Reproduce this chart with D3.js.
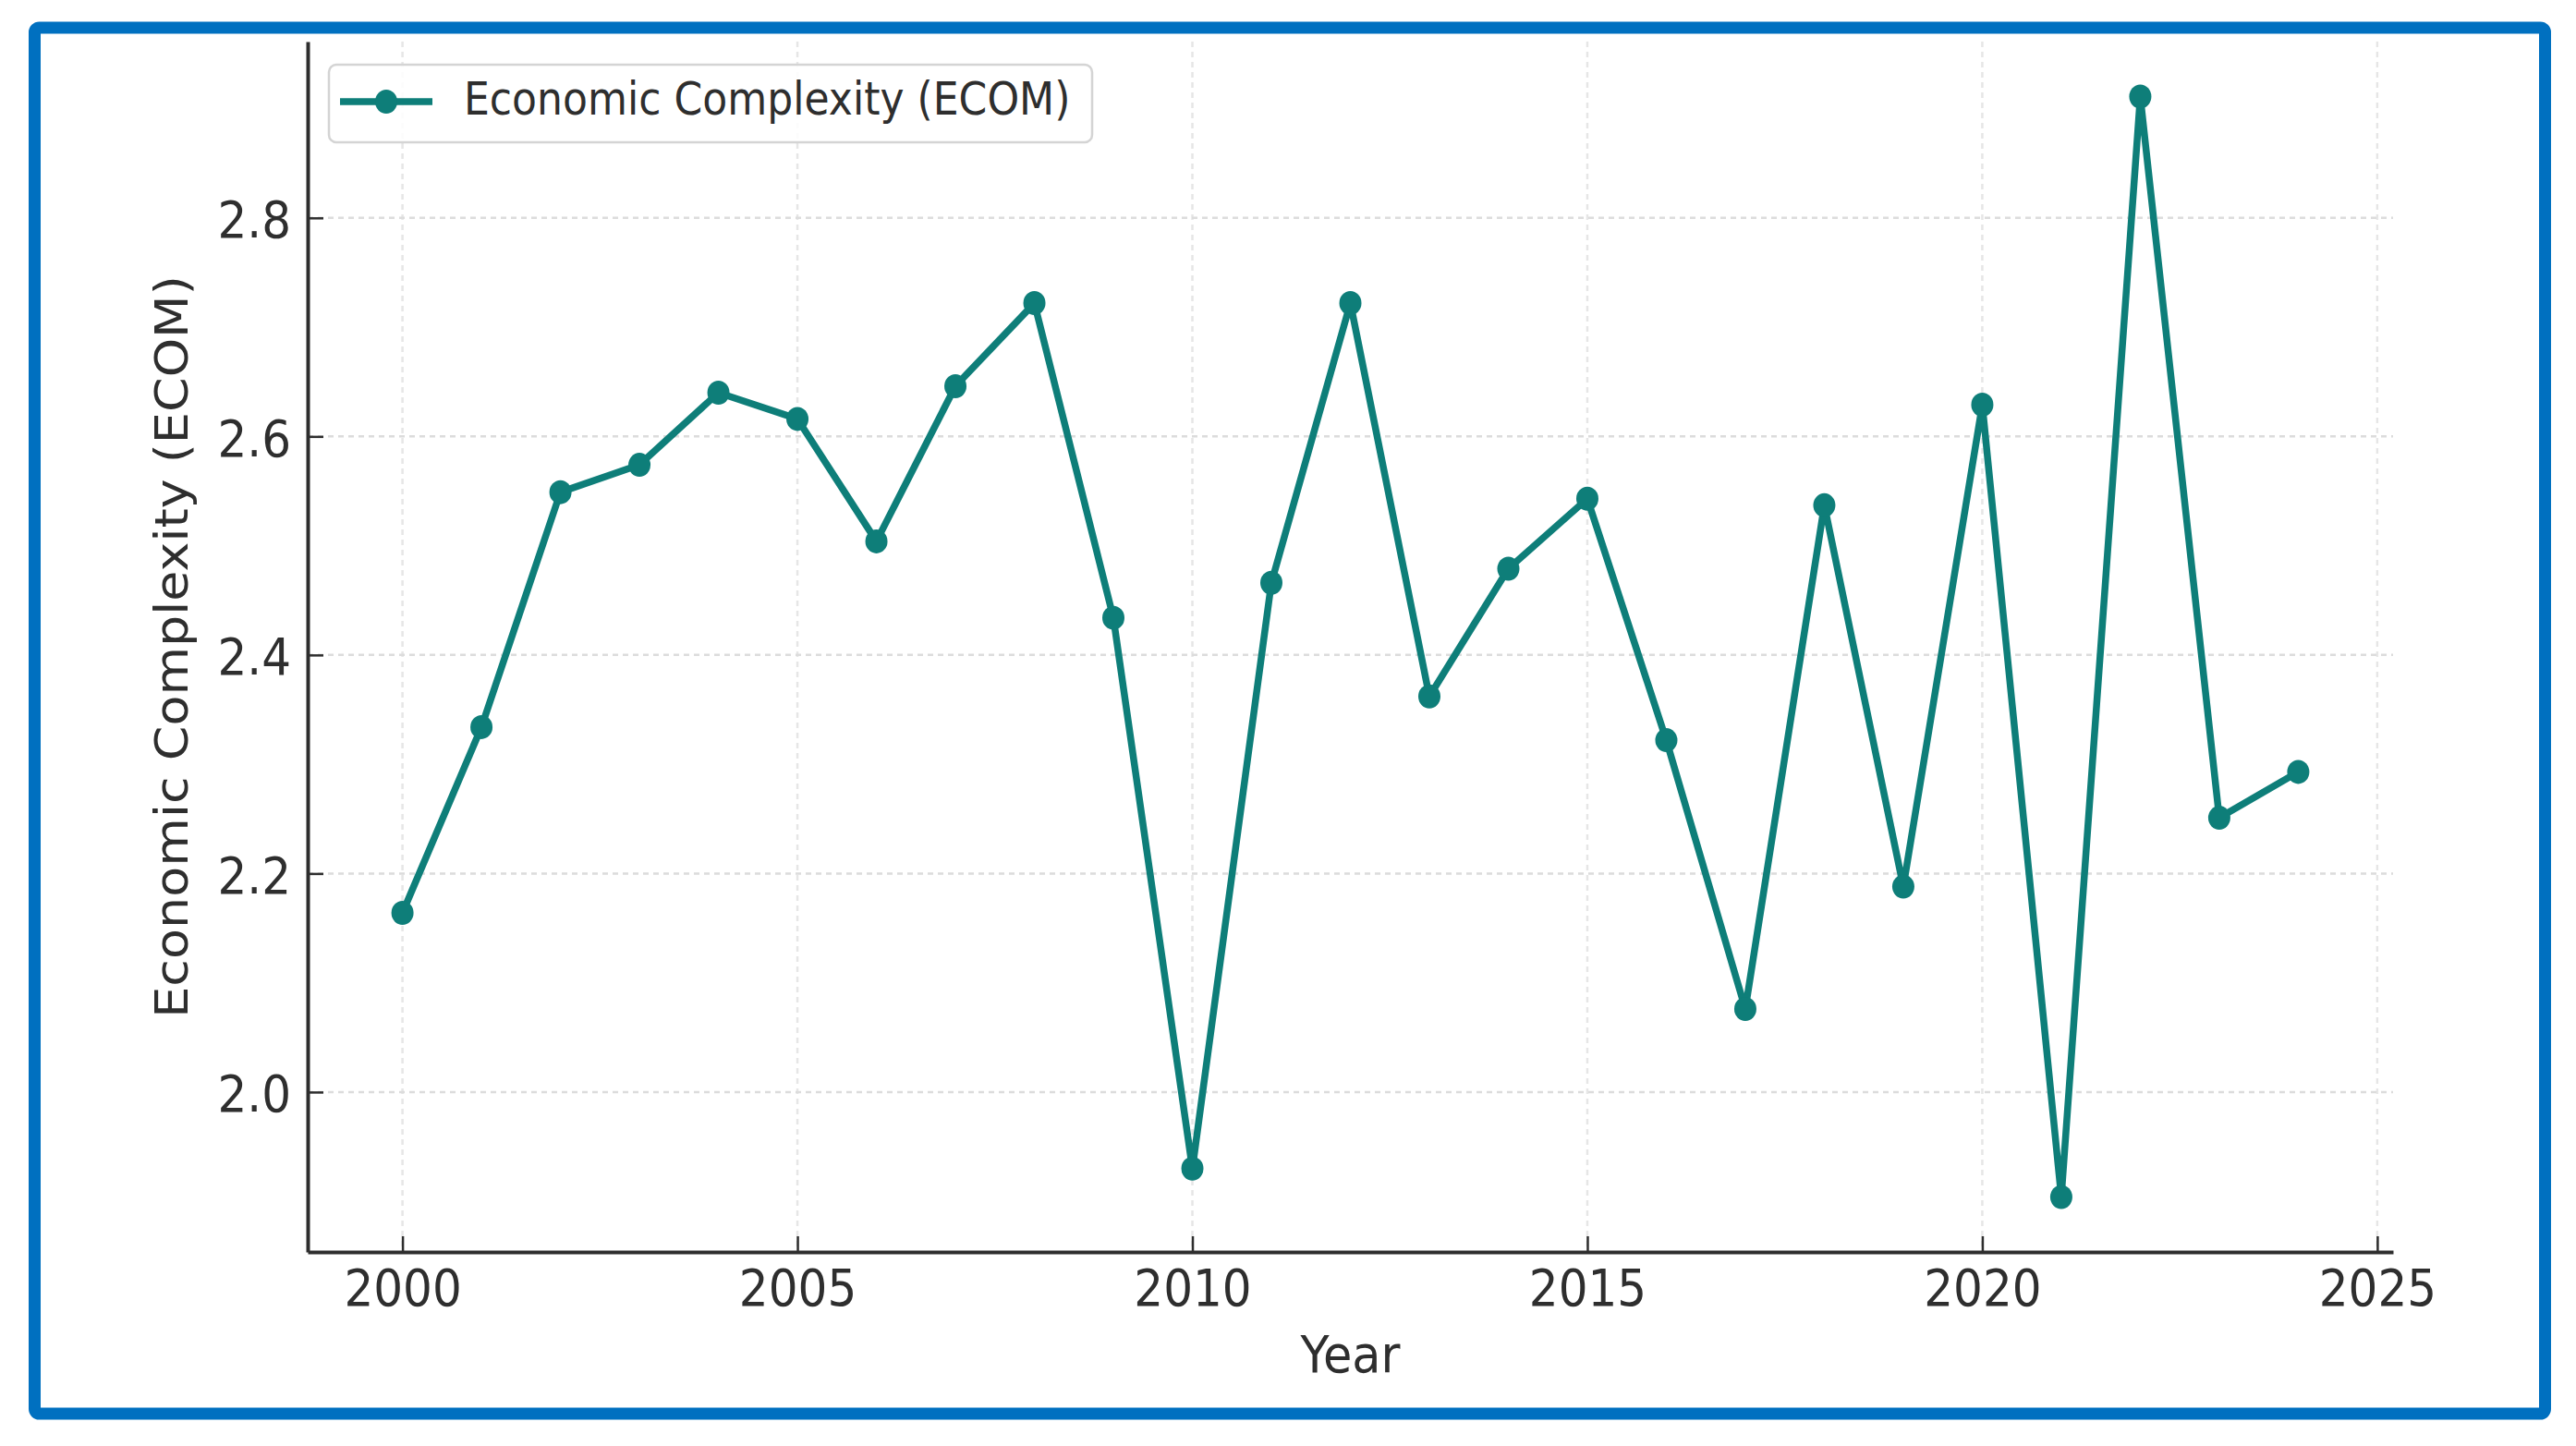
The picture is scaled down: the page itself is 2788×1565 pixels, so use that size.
<!DOCTYPE html>
<html><head><meta charset="utf-8">
<script src="https://cdn.jsdelivr.net/npm/d3@7"></script>
<style>html,body{margin:0;padding:0;background:#fff;} svg{display:block;}</style>
</head><body>
<svg id="chart" width="2788" height="1565"></svg>
<script>
// ---- data ----
const years = [2000,2001,2002,2003,2004,2005,2006,2007,2008,2009,2010,2011,2012,2013,2014,2015,2016,2017,2018,2019,2020,2021,2022,2023,2024];
const ecomValues = [2.164,2.334,2.549,2.574,2.640,2.616,2.504,2.646,2.722,2.434,1.930,2.466,2.722,2.362,2.479,2.543,2.322,2.076,2.537,2.188,2.629,1.904,2.911,2.251,2.293];
const xTickValues = [2000,2005,2010,2015,2020,2025];
const yTickValues = [2.0,2.2,2.4,2.6,2.8];
const yTickLabels = ["2.0","2.2","2.4","2.6","2.8"];
const seriesName = "Economic Complexity (ECOM)";
const xLabel = "Year";
const yLabel = "Economic Complexity (ECOM)";

// ---- layout / style ----
const W = 2788, H = 1565;
const plot = {left: 333, right: 2590, top: 45, bottom: 1355};
const teal = "#0e7e79";
const ink = "#2e2e2e";
const font = "'DejaVu Sans', sans-serif";
const sx = 0.91; // horizontal squeeze of the original picture

const svg = d3.select("#chart");
svg.append("rect").attr("width", W).attr("height", H).attr("fill", "#fff");

const xPad = (d3.max(years) - d3.min(years)) * 0.05;
const x = d3.scaleLinear().domain([d3.min(years) - xPad, d3.max(years) + xPad]).range([plot.left, plot.right]);
const [vmin, vmax] = d3.extent(ecomValues);
const yPad = (vmax - vmin) * 0.05;
const y = d3.scaleLinear().domain([vmin - yPad, vmax + yPad]).range([plot.bottom, plot.top]);

// grid
const grid = svg.append("g");
grid.selectAll("line.vg").data(xTickValues).join("line")
  .attr("x1", d => x(d)).attr("x2", d => x(d))
  .attr("y1", plot.top).attr("y2", plot.bottom)
  .attr("stroke", "#e6e6e6").attr("stroke-width", 2.5).attr("stroke-dasharray", "6,5");
grid.selectAll("line.hg").data(yTickValues).join("line")
  .attr("x1", plot.left).attr("x2", plot.right)
  .attr("y1", d => y(d)).attr("y2", d => y(d))
  .attr("stroke", "#dcdcdc").attr("stroke-width", 2.5).attr("stroke-dasharray", "6,5");

// axes
const xAxis = d3.axisBottom(x).tickValues(xTickValues).tickSizeInner(-17).tickSizeOuter(0).tickFormat(d3.format("d"));
const gx = svg.append("g").attr("transform", `translate(0,${plot.bottom})`).call(xAxis);
gx.select(".domain").attr("stroke", ink).attr("stroke-width", 4);
gx.selectAll(".tick line").attr("stroke", ink).attr("stroke-width", 2.5);
gx.selectAll(".tick text")
  .attr("y", null).attr("dy", null)
  .attr("transform", `translate(0,58) scale(${sx},1)`)
  .attr("fill", ink).attr("font-family", font).attr("font-size", 55).attr("text-anchor", "middle");

const yAxis = d3.axisLeft(y).tickValues(yTickValues).tickSizeInner(-17).tickSizeOuter(0)
  .tickFormat((d, i) => yTickLabels[i]);
const gy = svg.append("g").attr("transform", `translate(${plot.left},0)`).call(yAxis);
gy.select(".domain").attr("stroke", ink).attr("stroke-width", 4);
gy.selectAll(".tick line").attr("stroke", ink).attr("stroke-width", 2.5);
gy.selectAll(".tick text")
  .attr("x", null).attr("dy", null)
  .attr("transform", `translate(-18,21) scale(${sx},1)`)
  .attr("fill", ink).attr("font-family", font).attr("font-size", 55).attr("text-anchor", "end");

// axis labels
svg.append("text").text(xLabel)
  .attr("transform", `translate(${(plot.left + plot.right) / 2},1485) scale(${sx},1)`)
  .attr("text-anchor", "middle").attr("font-family", font).attr("font-size", 56).attr("fill", ink);
svg.append("text").text(yLabel)
  .attr("transform", `translate(203,${(plot.top + plot.bottom) / 2}) scale(${sx},1) rotate(-90)`)
  .attr("text-anchor", "middle").attr("font-family", font).attr("font-size", 54).attr("fill", ink);

// series
const pts = years.map((yr, i) => ({year: yr, value: ecomValues[i]}));
svg.append("path").datum(pts)
  .attr("d", d3.line().x(d => x(d.year)).y(d => y(d.value)))
  .attr("fill", "none").attr("stroke", teal).attr("stroke-width", 7.5).attr("stroke-linejoin", "round");
svg.append("g").selectAll("ellipse").data(pts).join("ellipse")
  .attr("cx", d => x(d.year)).attr("cy", d => y(d.value))
  .attr("rx", 12).attr("ry", 13).attr("fill", teal);

// legend
const lg = svg.append("g");
lg.append("rect").attr("x", 356).attr("y", 70).attr("width", 826).attr("height", 84).attr("rx", 8)
  .attr("fill", "#fff").attr("fill-opacity", 0.85).attr("stroke", "#d4d4d4").attr("stroke-width", 2.5);
lg.append("line").attr("x1", 368).attr("x2", 468).attr("y1", 110).attr("y2", 110)
  .attr("stroke", teal).attr("stroke-width", 7.5);
lg.append("ellipse").attr("cx", 418).attr("cy", 110).attr("rx", 12).attr("ry", 13).attr("fill", teal);
lg.append("text").text(seriesName)
  .attr("transform", `translate(502,124) scale(0.9,1)`)
  .attr("font-family", font).attr("font-size", 49).attr("fill", ink);

// outer blue frame
svg.append("rect").attr("x", 37.5).attr("y", 30).attr("width", 2717).attr("height", 1500).attr("rx", 5)
  .attr("fill", "none").attr("stroke", "#0070c0").attr("stroke-width", 13);
</script>
</body></html>
